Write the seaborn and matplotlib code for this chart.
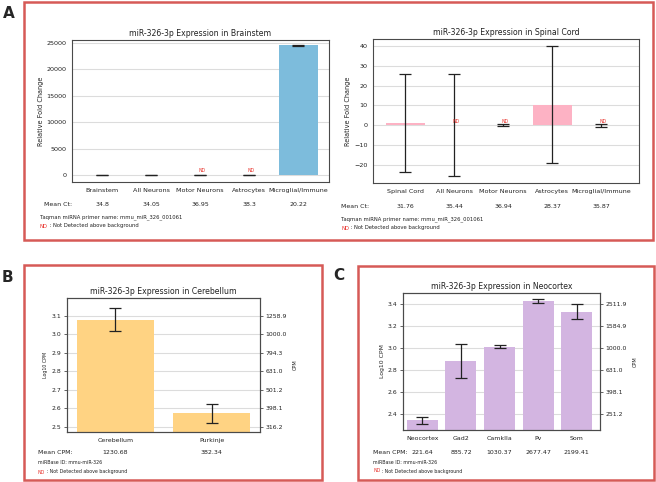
import numpy as np
import matplotlib
matplotlib.use("Agg")
import matplotlib.pyplot as plt
import seaborn as sns
from matplotlib.patches import Rectangle
from matplotlib.transforms import blended_transform_factory

# ---------------- data ----------------
bs_cats = ["Brainstem", "All Neurons", "Motor Neurons", "Astrocytes", "Microglial/Immune"]
bs_fc = [1.0, 1.5, 0.0, 0.0, 24500.0]
bs_err = [60.0, 60.0, 60.0, 60.0, 60.0]
bs_nd = [False, False, True, True, False]
bs_ct = ["34.8", "34.05", "36.95", "38.3", "20.22"]

sc_cats = ["Spinal Cord", "All Neurons", "Motor Neurons", "Astrocytes", "Microglial/Immune"]
sc_fc = [1.0, 0.0, 0.0, 10.3, 0.0]
sc_center = [1.15, 0.1, 0.0, 10.5, 0.0]
sc_err = [24.65, 25.95, 0.6, 29.8, 0.7]
sc_nd = [False, True, True, False, True]
sc_ct = ["31.76", "35.44", "36.94", "28.37", "35.87"]

cb_cats = ["Cerebellum", "Purkinje"]
cb_log = [3.078, 2.574]
cb_lo = [3.019, 2.523]
cb_hi = [3.141, 2.623]
cb_cpm = ["1230.68", "382.34"]
cb_ticks = [2.5, 2.6, 2.7, 2.8, 2.9, 3.0, 3.1]

nc_cats = ["Neocortex", "Gad2", "CamkIIa", "Pv", "Som"]
nc_log = [2.345, 2.884, 3.015, 3.428, 3.334]
nc_lo = [2.307, 2.732, 3.000, 3.410, 3.265]
nc_hi = [2.376, 3.037, 3.030, 3.450, 3.407]
nc_cpm = ["221.64", "885.72", "1030.37", "2677.47", "2199.41"]
nc_ticks = [2.4, 2.6, 2.8, 3.0, 3.2, 3.4]

primer_note = "Taqman miRNA primer name: mmu_miR_326_001061"
mirbase_note = "miRBase ID: mmu-miR-326"
nd_note = " : Not Detected above background"

# ---------------- figure ----------------
sns.set_style("white")
plt.rcParams['font.family'] = ['DejaVu Sans']
W, H = 656, 482
fig = plt.figure(figsize=(W / 100, H / 100), dpi=100)

RED = "#d65a57"
SPINE = "#4a4a4a"
GRID = "#dcdcdc"
TXT = "#222222"


def fx(x):
    return x / W


def fy(y):
    return 1 - y / H


def ax_px(x0, y0, x1, y1):
    return fig.add_axes([fx(x0), fy(y1), (x1 - x0) / W, (y1 - y0) / H])


def box(x0, y0, x1, y1):
    fig.add_artist(Rectangle((fx(x0), fy(y1)), (x1 - x0) / W, (y1 - y0) / H,
                             transform=fig.transFigure, fill=False,
                             edgecolor=RED, lw=1.8))


def style(ax, yfs, xfs):
    ax.set_axisbelow(True)
    ax.yaxis.grid(True, color=GRID, lw=0.8)
    ax.xaxis.grid(False)
    for s in ax.spines.values():
        s.set_visible(True)
        s.set_color(SPINE)
        s.set_linewidth(0.8)
    ax.tick_params(axis='y', labelsize=yfs, length=2.5, width=0.6, color=SPINE,
                   pad=1.5, labelcolor=TXT)
    ax.tick_params(axis='x', labelsize=xfs, length=2.5, width=0.6, color=SPINE,
                   pad=2, labelcolor=TXT)


def bars(ax, cats, vals, color):
    sns.barplot(x=cats, y=vals, color=color, saturation=1, width=0.8,
                errorbar=None, ax=ax, linewidth=0)


def row_text(ax, y_px, xs, labels, fs):
    tr = blended_transform_factory(ax.transData, fig.transFigure)
    for x, s in zip(xs, labels):
        ax.text(x, fy(y_px), s, transform=tr, ha='center', va='center',
                fontsize=fs, color=TXT)


def nd_marks(ax, flags):
    for i, f in enumerate(flags):
        if f:
            ax.annotate("ND", xy=(i, 0), xytext=(1.5, 1.2), textcoords='offset points',
                        ha='center', va='bottom', fontsize=3.3, color='#e8302a')


def nd_line(x_px, y_px, fs):
    t = fig.text(fx(x_px), fy(y_px), "ND", color='#e8302a', fontsize=fs,
                 ha='left', va='center')
    fig.canvas.draw()
    bb = t.get_window_extent()
    fig.text(bb.x1 / fig.dpi / fig.get_figwidth(), fy(y_px), nd_note, color=TXT,
             fontsize=fs, ha='left', va='center')


# boxes and panel letters
box(24, 2, 653, 240)
box(24, 265, 322, 480)
box(358, 266, 654, 480)
fig.text(fx(9), fy(13), "A", fontsize=11, fontweight='bold', ha='center', va='center')
fig.text(fx(7), fy(277), "B", fontsize=11, fontweight='bold', ha='center', va='center')
fig.text(fx(339), fy(275), "C", fontsize=11, fontweight='bold', ha='center', va='center')

TITLE_FS = 5.6
LAB_FS = 4.7
ROW_FS = 4.5
NOTE_FS = 3.8
TICK_FS = 4.6

# ---- A left: Brainstem ----
ax1 = ax_px(72, 40, 329, 182)
bars(ax1, bs_cats, bs_fc, "#7dbcdc")
ax1.errorbar(np.arange(len(bs_cats)), bs_fc, yerr=bs_err, fmt='none',
             ecolor='#222222', elinewidth=0.9, capsize=4.2, capthick=0.9)
ax1.set_xlim(-0.62, 4.63)
ax1.set_ylim(-1320, 25510)
ax1.set_yticks([0, 5000, 10000, 15000, 20000, 25000])
style(ax1, TICK_FS, TICK_FS)
ax1.set_title("miR-326-3p Expression in Brainstem", fontsize=TITLE_FS, pad=3, color=TXT)
ax1.set_ylabel("Relative Fold Change", fontsize=LAB_FS, labelpad=2, color=TXT)
nd_marks(ax1, bs_nd)
fig.text(fx(44), fy(204), "Mean Ct:", fontsize=ROW_FS, ha='left', va='center', color=TXT)
row_text(ax1, 204, np.arange(5), bs_ct, ROW_FS)
fig.text(fx(40), fy(217), primer_note, fontsize=NOTE_FS, ha='left', va='center', color=TXT)
nd_line(40, 226, NOTE_FS)

# ---- A right: Spinal Cord ----
ax2 = ax_px(373, 39, 639, 183)
bars(ax2, sc_cats, sc_fc, "#fdb2c4")
ax2.errorbar(np.arange(len(sc_cats)), sc_center, yerr=sc_err, fmt='none',
             ecolor='#222222', elinewidth=0.9, capsize=4.2, capthick=0.9)
ax2.set_xlim(-0.66, 4.77)
ax2.set_ylim(-29.2, 43.6)
ax2.set_yticks([-20, -10, 0, 10, 20, 30, 40])
style(ax2, TICK_FS, TICK_FS)
ax2.set_title("miR-326-3p Expression in Spinal Cord", fontsize=TITLE_FS, pad=3, color=TXT)
ax2.set_ylabel("Relative Fold Change", fontsize=LAB_FS, labelpad=2, color=TXT)
nd_marks(ax2, sc_nd)
fig.text(fx(341), fy(206), "Mean Ct:", fontsize=ROW_FS, ha='left', va='center', color=TXT)
row_text(ax2, 206, np.arange(5), sc_ct, ROW_FS)
fig.text(fx(341), fy(219), primer_note, fontsize=NOTE_FS, ha='left', va='center', color=TXT)
nd_line(341, 228, NOTE_FS)

# ---- B: Cerebellum ----
ax3 = ax_px(67, 298, 260, 432)
bars(ax3, cb_cats, cb_log, "#ffd383")
xs = np.arange(len(cb_cats))
ax3.errorbar(xs, cb_log, yerr=[np.array(cb_log) - np.array(cb_lo), np.array(cb_hi) - np.array(cb_log)],
             fmt='none', ecolor='#222222', elinewidth=0.9, capsize=4, capthick=0.9)
ax3.set_xlim(-0.5, 1.5)
ax3.set_ylim(2.473, 3.197)
ax3.set_yticks(cb_ticks)
style(ax3, 4.4, 4.5)
ax3.set_title("miR-326-3p Expression in Cerebellum", fontsize=TITLE_FS, pad=3, color=TXT)
ax3.set_ylabel("Log10 CPM", fontsize=3.4, labelpad=3, color=TXT)
t3 = ax3.twinx()
t3.set_ylim(ax3.get_ylim())
t3.set_yticks(cb_ticks)
t3.set_yticklabels([f"{10 ** t:.1f}" for t in cb_ticks])
t3.tick_params(axis='y', labelsize=4.4, length=2.5, width=0.6, color=SPINE, pad=1.5, labelcolor=TXT)
for s in t3.spines.values():
    s.set_color(SPINE)
    s.set_linewidth(0.8)
t3.set_ylabel("CPM", fontsize=3.6, labelpad=4, color=TXT)
fig.text(fx(38), fy(452), "Mean CPM:", fontsize=ROW_FS, ha='left', va='center', color=TXT)
row_text(ax3, 452, xs, cb_cpm, ROW_FS)
fig.text(fx(38), fy(462), mirbase_note, fontsize=NOTE_FS * 0.9, ha='left', va='center', color=TXT)
nd_line(38, 472, NOTE_FS * 0.9)

# ---- C: Neocortex ----
ax4 = ax_px(403, 293, 600, 430)
bars(ax4, nc_cats, nc_log, "#d3b5e1")
xs = np.arange(len(nc_cats))
ax4.errorbar(xs, nc_log, yerr=[np.array(nc_log) - np.array(nc_lo), np.array(nc_hi) - np.array(nc_log)],
             fmt='none', ecolor='#222222', elinewidth=0.9, capsize=4, capthick=0.9)
ax4.set_xlim(-0.5, 4.6)
ax4.set_ylim(2.254, 3.503)
ax4.set_yticks(nc_ticks)
style(ax4, 4.4, 4.5)
ax4.set_title("miR-326-3p Expression in Neocortex", fontsize=TITLE_FS, pad=3, color=TXT)
ax4.set_ylabel("Log10 CPM", fontsize=4.4, labelpad=2, color=TXT)
t4 = ax4.twinx()
t4.set_ylim(ax4.get_ylim())
t4.set_yticks(nc_ticks)
t4.set_yticklabels([f"{10 ** t:.1f}" for t in nc_ticks])
t4.tick_params(axis='y', labelsize=4.4, length=2.5, width=0.6, color=SPINE, pad=1.5, labelcolor=TXT)
for s in t4.spines.values():
    s.set_color(SPINE)
    s.set_linewidth(0.8)
t4.set_ylabel("CPM", fontsize=3.6, labelpad=4, color=TXT)
fig.text(fx(373), fy(452), "Mean CPM:", fontsize=ROW_FS, ha='left', va='center', color=TXT)
row_text(ax4, 452, xs, nc_cpm, ROW_FS)
fig.text(fx(373), fy(462), mirbase_note, fontsize=NOTE_FS * 0.9, ha='left', va='center', color=TXT)
nd_line(373, 471, NOTE_FS * 0.9)

fig.savefig("out.png", dpi=100)
